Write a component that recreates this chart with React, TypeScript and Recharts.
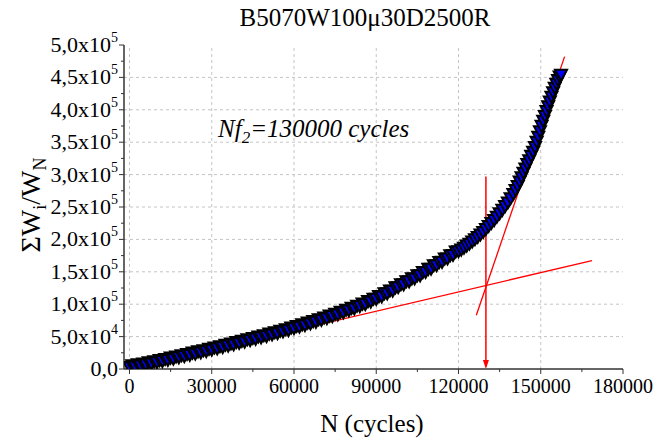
import React from 'react';
import { ScatterChart, Scatter, XAxis, YAxis, ReferenceLine } from 'recharts';

// cycles N and cumulated energy ratio
const cycles = [
  0, 1000, 2000, 3000, 4000, 5000, 6000, 7000, 8000, 9000, 10000, 11000, 12000, 13000, 14000,
  15000, 16000, 17000, 18000, 19000, 20000, 21000, 22000, 23000, 24000, 25000, 26000, 27000,
  28000, 29000, 30000, 31000, 32000, 33000, 34000, 35000, 36000, 37000, 38000, 39000, 40000,
  41000, 42000, 43000, 44000, 45000, 46000, 47000, 48000, 49000, 50000, 51000, 52000, 53000,
  54000, 55000, 56000, 57000, 58000, 59000, 60000, 61000, 62000, 63000, 64000, 65000, 66000,
  67000, 68000, 69000, 70000, 71000, 72000, 73000, 74000, 75000, 76000, 77000, 78000, 79000,
  80000, 81000, 82000, 83000, 84000, 85000, 86000, 87000, 88000, 89000, 90000, 91000, 92000,
  93000, 94000, 95000, 96000, 97000, 98000, 99000, 100000, 101000, 102000, 103000, 104000,
  105000, 106000, 107000, 108000, 109000, 110000, 111000, 112000, 113000, 114000, 115000,
  116000, 117000, 118000, 119000, 120000, 121000, 122000, 123000, 124000, 125000, 126000,
  127000, 128000, 129000, 130000, 131000, 132000, 133000, 134000, 135000, 136000, 137000,
  138000, 139000, 140000, 140800, 141600, 142300, 143000, 143700, 144400, 145100, 145800,
  146500, 147200, 147900, 148500, 149100, 149700, 150300, 150900, 151500, 152100, 152700,
  153300, 153900, 154500, 155100, 155700, 156300, 156900, 157400,
];
const energyRatio = [
  3000, 5800, 4000, 7300, 5300, 8500, 7000, 10400, 8600, 11900, 10400, 13700, 12200, 15600, 14000,
  17600, 15900, 19400, 18000, 21300, 19900, 23100, 21700, 25300, 23500, 27200, 25600, 28900,
  27700, 31100, 29800, 33200, 31900, 35300, 33800, 37500, 36100, 39400, 37900, 41700, 40200,
  43500, 42000, 45900, 44600, 47900, 46500, 50300, 48900, 52200, 50800, 54600, 53300, 56700,
  55200, 59100, 57900, 61400, 60100, 64100, 62900, 66400, 65300, 69000, 67600, 71600, 70400,
  74000, 72800, 76900, 75900, 79500, 78300, 82500, 81600, 85300, 84200, 88400, 87500, 91400,
  90600, 94400, 93400, 97800, 97100, 101000, 100200, 104800, 104100, 108500, 108300, 112500, 112000,
  117000, 116800, 121200, 120900, 126100, 126200, 130800, 130600, 135500, 135300, 139900, 139800,
  144800, 144600, 149500, 149700, 154600, 154800, 160100, 160300, 165200, 165400, 170700,
  170600, 175700, 176100, 181300, 181700, 184300, 187200, 190400, 193300, 196800, 200200,
  203800, 207600, 211500, 216000, 220700, 225300, 229800, 234900, 240200, 245600, 251400,
  257100, 263600, 270200, 276300, 282500, 289400, 296100, 302800, 309600, 316300, 322100,
  328900, 335200, 342500, 350700, 358400, 366900, 375200, 383000, 390600, 398100, 405500,
  412700, 420100, 427200, 434000, 440300, 446100, 451200, 454000,
];

const xMajorTicks = [0, 30000, 60000, 90000, 120000, 150000, 180000];
const xMinorTicks = [15000, 45000, 75000, 105000, 135000, 165000];
const yMajorTicks = [0, 50000, 100000, 150000, 200000, 250000, 300000, 350000, 400000, 450000, 500000];
const yMinorTicks = [25000, 75000, 125000, 175000, 225000, 275000, 325000, 375000, 425000, 475000];
const xGrid = [0, 30000, 60000, 90000, 120000, 150000];
const yGrid = [50000, 100000, 150000, 200000, 250000, 300000, 350000, 400000, 450000];

// the two fitted straight lines and the failure point
const fitLow = [{ x: 0, y: 0 }, { x: 168700, y: 167300 }];
const fitHigh = [{ x: 126500, y: 83000 }, { x: 158700, y: 482000 }];
const nf2 = 130000;
const arrowFrom = 297000;

const data = cycles.map((n, i) => ({ x: n, y: energyRatio[i] }));
const arrowData = [{ x: nf2, y: 0 }];

const FRAME = '#333';
const GRID = '#c4c4c4';
const FONT = 'Liberation Serif';

const xAll = [...xMajorTicks, ...xMinorTicks].sort((a, b) => a - b);
const yAll = [...yMajorTicks, ...yMinorTicks].sort((a, b) => a - b);

const yLabel = (v: number) => {
  if (v === 0) return { base: '0,0', exp: '' };
  const exp = v >= 100000 ? 5 : 4;
  const m = (v / Math.pow(10, exp)).toFixed(1).replace('.', ',');
  return { base: `${m}x10`, exp: String(exp) };
};

const BottomTick = ({ x, y, payload }: any) => {
  const major = xMajorTicks.includes(payload.value);
  return (
    <g>
      <line x1={x} x2={x} y1={y} y2={y + (major ? 5 : 3)} stroke={FRAME} />
      {major && (
        <text x={x} y={y + 24} textAnchor="middle" fontSize={20} fontFamily={FONT} fill="#000">
          {payload.value}
        </text>
      )}
    </g>
  );
};

const TopTick = ({ x, y, payload }: any) => {
  const major = xMajorTicks.includes(payload.value);
  return <line x1={x} x2={x} y1={y} y2={y - (major ? 4 : 2)} stroke={FRAME} />;
};

const LeftTick = ({ x, y, payload }: any) => {
  const major = yMajorTicks.includes(payload.value);
  const lab = yLabel(payload.value);
  return (
    <g>
      <line x1={x} x2={x - (major ? 5 : 3)} y1={y} y2={y} stroke={FRAME} />
      {major && (
        <text x={x - 6} y={y + 7} textAnchor="end" fontSize={22} fontFamily={FONT} fill="#000">
          {lab.base}
          {lab.exp && (
            <tspan dy={-10} fontSize={14}>
              {lab.exp}
            </tspan>
          )}
        </text>
      )}
    </g>
  );
};

const RightTick = ({ x, y, payload }: any) => {
  const major = yMajorTicks.includes(payload.value);
  return <line x1={x} x2={x + (major ? 4 : 2)} y1={y} y2={y} stroke={FRAME} />;
};

const DownTriangle = ({ cx, cy }: any) => (
  <polygon
    points={`${cx - 6},${cy - 5} ${cx + 6},${cy - 5} ${cx},${cy + 6}`}
    fill="#0000ff"
    stroke="#000"
    strokeWidth={2}
  />
);

const ArrowHead = ({ cx, cy }: any) => (
  <polygon points={`${cx - 3},${cy - 9} ${cx + 3},${cy - 9} ${cx},${cy}`} fill="#ff0000" />
);

export default function App() {
  return (
    <div
      style={{
        position: 'absolute',
        left: 0,
        top: 0,
        width: 657,
        height: 441,
        background: '#fff',
        fontFamily: "'Liberation Serif', serif",
      }}
    >
      <ScatterChart width={657} height={441} margin={{ top: 45, right: 34, bottom: 42, left: 64 }}>
        <XAxis
          type="number"
          dataKey="x"
          domain={[-2000, 180000]}
          ticks={xAll}
          interval={0}
          allowDataOverflow
          height={30}
          tickSize={0}
          tickMargin={0}
          tickLine={false}
          tick={<BottomTick />}
          axisLine={{ stroke: FRAME, strokeWidth: 1.5 }}
        />
        <XAxis
          xAxisId="top"
          orientation="top"
          type="number"
          domain={[-2000, 180000]}
          ticks={xAll}
          interval={0}
          allowDataOverflow
          height={0}
          tickSize={0}
          tickMargin={0}
          tickLine={false}
          tick={<TopTick />}
          axisLine={{ stroke: FRAME, strokeWidth: 1.5 }}
        />
        <YAxis
          type="number"
          dataKey="y"
          domain={[0, 500000]}
          ticks={yAll}
          interval={0}
          allowDataOverflow
          width={60}
          tickSize={0}
          tickMargin={0}
          tickLine={false}
          tick={<LeftTick />}
          axisLine={{ stroke: FRAME, strokeWidth: 1.5 }}
        />
        <YAxis
          yAxisId="right"
          orientation="right"
          type="number"
          domain={[0, 500000]}
          ticks={yAll}
          interval={0}
          allowDataOverflow
          width={0}
          tickSize={0}
          tickMargin={0}
          tickLine={false}
          tick={<RightTick />}
          axisLine={{ stroke: FRAME, strokeWidth: 1.5 }}
        />
        {xGrid.map((v) => (
          <ReferenceLine key={`gx${v}`} x={v} stroke={GRID} strokeDasharray="3 3" />
        ))}
        {yGrid.map((v) => (
          <ReferenceLine key={`gy${v}`} y={v} stroke={GRID} strokeDasharray="3 3" />
        ))}
        <Scatter data={data} shape={<DownTriangle />} isAnimationActive={false} />
        <ReferenceLine segment={fitLow} stroke="#ff0000" strokeWidth={1.3} />
        <ReferenceLine segment={fitHigh} stroke="#ff0000" strokeWidth={1.3} />
        <ReferenceLine
          segment={[{ x: nf2, y: arrowFrom }, { x: nf2, y: 4000 }]}
          stroke="#ff0000"
          strokeWidth={1.5}
        />
        <Scatter data={arrowData} shape={<ArrowHead />} isAnimationActive={false} />
      </ScatterChart>

      <svg width={657} height={441} style={{ position: 'absolute', left: 0, top: 0, pointerEvents: 'none' }}>
        <text x={365} y={26} textAnchor="middle" fontSize={25} fontFamily={FONT}>
          B5070W100μ30D2500R
        </text>
        <text x={218} y={137} fontSize={25} fontStyle="italic" fontFamily={FONT}>
          Nf
          <tspan fontSize={17} dy={6}>
            2
          </tspan>
          <tspan dy={-6}>=130000 cycles</tspan>
        </text>
        <text transform="translate(40,205) rotate(-90)" textAnchor="middle" fontSize={28} fontFamily={FONT}>
          ΣW
          <tspan fontSize={18} dy={6}>
            i
          </tspan>
          <tspan dy={-6}>/W</tspan>
          <tspan fontSize={18} dy={6}>
            N
          </tspan>
        </text>
        <text x={372} y={432} textAnchor="middle" fontSize={25} fontFamily={FONT}>
          N (cycles)
        </text>
      </svg>
    </div>
  );
}
